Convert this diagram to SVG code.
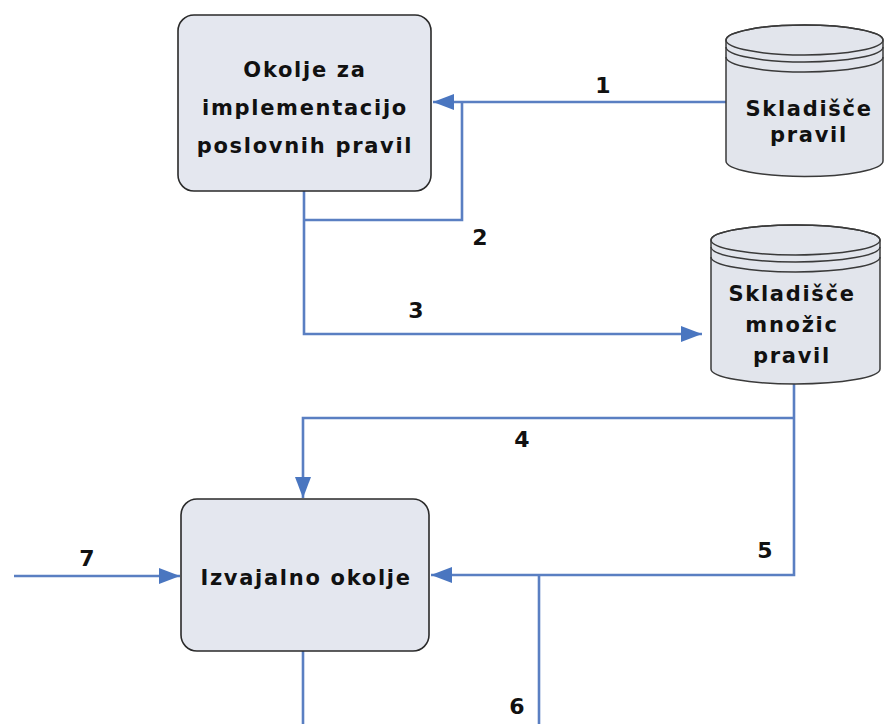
<svg xmlns="http://www.w3.org/2000/svg" width="885" height="724" viewBox="0 0 885 724">
<style>
.box{fill:#e4e7ef;stroke:#2a2a2a;stroke-width:1.6}
.cyl{fill:#e2e5ec;stroke:#3a3a3a;stroke-width:1.5}
.ring{fill:none;stroke:#3a3a3a;stroke-width:1.5}
.t{font-family:"DejaVu Sans",Verdana,sans-serif;font-weight:bold;font-size:21px;letter-spacing:1.7px;fill:#111;text-anchor:middle}
.n{font-family:"DejaVu Sans",Verdana,sans-serif;font-weight:bold;font-size:22px;fill:#111;text-anchor:middle}
.c{fill:none;stroke:#5a7fc2;stroke-width:2.6}
</style>
<defs>
<marker id="ah" markerUnits="userSpaceOnUse" markerWidth="22" markerHeight="18" refX="21" refY="8" orient="auto">
<path d="M0,0 L21,8 L0,16 z" fill="#4a76c0"/>
</marker>
</defs>
<rect width="885" height="724" fill="#ffffff"/>
<g id="connectors">
<path class="c" d="M726,102 H433" marker-end="url(#ah)"/>
<path class="c" d="M304,220 H462 V102"/>
<path class="c" d="M304,191 V334 H702" marker-end="url(#ah)"/>
<path class="c" d="M794,384 V575 H431" marker-end="url(#ah)"/>
<path class="c" d="M794,418 H303 V498" marker-end="url(#ah)"/>
<path class="c" d="M539,575 V724"/>
<path class="c" d="M303,651 V724"/>
<path class="c" d="M14,576 H180" marker-end="url(#ah)"/>
<text class="n" x="603" y="93">1</text>
<text class="n" x="480" y="245">2</text>
<text class="n" x="416" y="318">3</text>
<text class="n" x="522" y="447">4</text>
<text class="n" x="765" y="558">5</text>
<text class="n" x="517" y="714">6</text>
<text class="n" x="87" y="566">7</text>
</g>
<g id="okolje-implementacija">
<rect class="box" x="178" y="15" width="253" height="176" rx="16"/>
<text class="t" x="305" y="77">Okolje za</text>
<text class="t" x="305" y="115">implementacijo</text>
<text class="t" x="305" y="153">poslovnih pravil</text>
</g>
<g id="skladisce-pravil">
<path class="cyl" d="M726,40 A78.5,15 0 0 1 883,40 V161 A78.5,15.5 0 0 1 726,161 Z"/>
<ellipse class="ring" cx="804.5" cy="40" rx="78.5" ry="15"/>
<path class="ring" d="M726,47 A78.5,15 0 0 0 883,47"/>
<path class="ring" d="M726,57 A78.5,15 0 0 0 883,57"/>
<text class="t" x="809" y="116">Skladišče</text>
<text class="t" x="809" y="142">pravil</text>
</g>
<g id="skladisce-mnozic-pravil">
<path class="cyl" d="M711,240 A84.5,15 0 0 1 880,240 V369 A84.5,15 0 0 1 711,369 Z"/>
<ellipse class="ring" cx="795.5" cy="240" rx="84.5" ry="15"/>
<path class="ring" d="M711,247 A84.5,15 0 0 0 880,247"/>
<path class="ring" d="M711,257 A84.5,15 0 0 0 880,257"/>
<text class="t" x="792" y="301">Skladišče</text>
<text class="t" x="792" y="332">množic</text>
<text class="t" x="792" y="363">pravil</text>
</g>
<g id="izvajalno-okolje">
<rect class="box" x="181" y="499" width="248" height="152" rx="16"/>
<text class="t" x="306" y="585">Izvajalno okolje</text>
</g>
</svg>
